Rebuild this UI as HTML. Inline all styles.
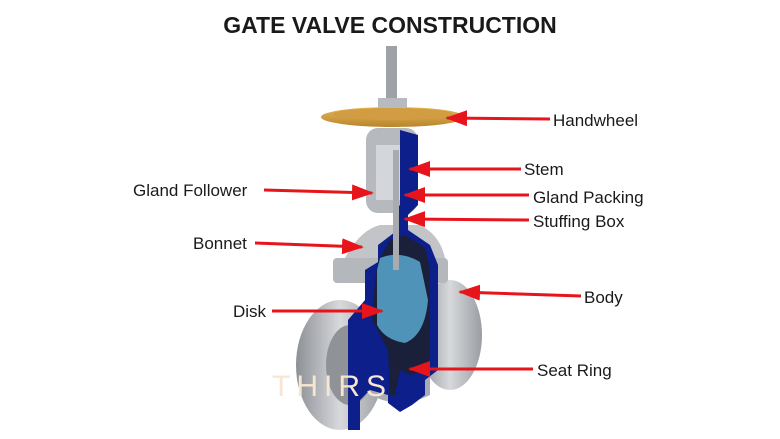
<!DOCTYPE html>
<html><head><meta charset="utf-8"><style>
body{margin:0;width:780px;height:439px;background:#fff;overflow:hidden}
svg{display:block}
text{font-family:"Liberation Sans",sans-serif;fill:#1a1a1a}
</style></head><body>
<svg width="780" height="439" viewBox="0 0 780 439">
<defs>
<linearGradient id="g" x1="0" x2="1"><stop offset="0" stop-color="#8d9096"/><stop offset=".5" stop-color="#d7d9dc"/><stop offset="1" stop-color="#9a9da2"/></linearGradient>
<linearGradient id="w" x1="0" y1="0" x2="0" y2="1"><stop offset="0" stop-color="#e8b85a"/><stop offset="1" stop-color="#b9852c"/></linearGradient>
<marker id="a" markerWidth="22" markerHeight="16" refX="20" refY="8" orient="auto" markerUnits="userSpaceOnUse" viewBox="0 0 22 16"><path d="M0 0L22 8L0 16z" fill="#e8141c"/></marker>
</defs>
<text x="390" y="33" font-size="23" font-weight="bold" text-anchor="middle">GATE VALVE CONSTRUCTION</text>
<rect x="386" y="46" width="11" height="56" fill="#9ea1a6"/>
<rect x="378" y="98" width="29" height="11" fill="#b7babe"/>
<ellipse cx="450" cy="335" rx="32" ry="55" fill="url(#g)"/>
<ellipse cx="340" cy="365" rx="44" ry="65" fill="url(#g)"/>
<ellipse cx="350" cy="365" rx="24" ry="40" fill="#8f9297"/>
<path d="M360 330 Q400 305 430 335 L430 395 Q400 410 370 395z" fill="#a9acb1"/>
<rect x="333" y="258" width="115" height="25" rx="4" fill="#b4b7bb"/>
<path d="M345 258 Q360 230 380 225 L420 225 Q440 235 445 258z" fill="#c2c4c8"/>
<rect x="366" y="128" width="52" height="85" rx="12" fill="#b6b9bd"/>
<rect x="376" y="145" width="30" height="55" fill="#d4d6d9"/>
<path d="M400 130 L418 135 L418 205 L408 215 L408 230 L430 245 L438 265 L438 370 L425 380 L425 395 L412 405 L400 412 L388 403 L388 395 L370 390 L360 400 L360 430 L348 430 L348 320 L365 300 L365 270 L378 262 L378 245 L395 232 L395 210 L400 205z" fill="#0c1f8a"/>
<path d="M378 262 L390 240 L405 235 L425 248 L430 268 L430 360 L420 372 L410 375 L400 370 L395 395 L390 395 L388 350 L372 320 L375 280z" fill="#1a1f3a"/>
<path d="M380 258 Q400 250 420 262 L428 300 Q425 335 405 343 Q385 340 377 325 L377 270z" fill="#4f93b8"/>
<rect x="393" y="150" width="6" height="120" fill="#a8abaf"/>
<ellipse cx="393" cy="117" rx="72" ry="10" fill="url(#w)"/>
<ellipse cx="393" cy="114" rx="60" ry="6" fill="#d29d42"/>
<text x="272" y="396" font-size="30" style="fill:#f8e6d2" letter-spacing="6">THIRS</text>
<g stroke="#e8141c" stroke-width="3" marker-end="url(#a)">
<line x1="550" y1="119" x2="447" y2="118"/>
<line x1="521" y1="169" x2="410" y2="169"/>
<line x1="264" y1="190" x2="372" y2="193"/>
<line x1="529" y1="195" x2="405" y2="195"/>
<line x1="529" y1="220" x2="405" y2="219"/>
<line x1="255" y1="243" x2="362" y2="247"/>
<line x1="581" y1="296" x2="460" y2="292"/>
<line x1="272" y1="311" x2="382" y2="311"/>
<line x1="533" y1="369" x2="410" y2="369"/>
</g>
<g font-size="17">
<text x="553" y="126">Handwheel</text>
<text x="524" y="175">Stem</text>
<text x="133" y="196">Gland Follower</text>
<text x="533" y="203">Gland Packing</text>
<text x="533" y="227">Stuffing Box</text>
<text x="193" y="249">Bonnet</text>
<text x="584" y="303">Body</text>
<text x="233" y="317">Disk</text>
<text x="537" y="376">Seat Ring</text>
</g>
</svg>
</body></html>
